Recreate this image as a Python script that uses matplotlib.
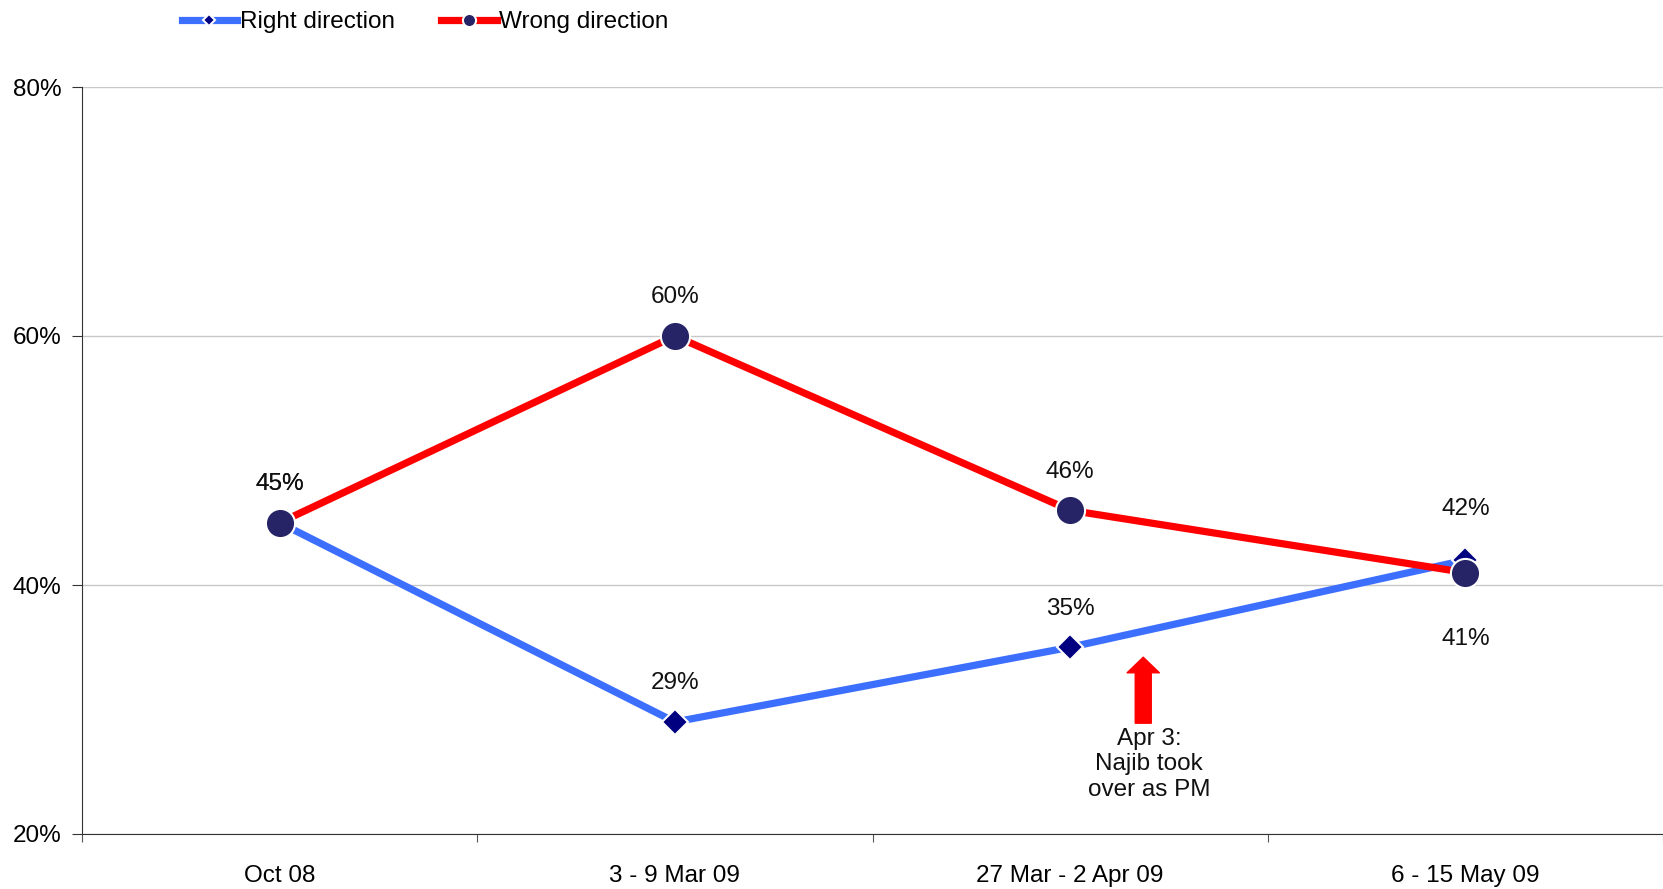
import matplotlib
matplotlib.use("Agg")
import matplotlib.pyplot as plt

plt.rcParams['font.family'] = ['Liberation Sans', 'DejaVu Sans']

# data
periods = ["Oct 08", "3 - 9 Mar 09", "27 Mar - 2 Apr 09", "6 - 15 May 09"]
right_dir = [45, 29, 35, 42]
wrong_dir = [45, 60, 46, 41]
y_ticks = [20, 40, 60, 80]

x = list(range(len(periods)))
fs = 17.5

fig = plt.figure(figsize=(16.63, 8.89), dpi=100)
ax = fig.add_axes([82/1663, 1 - 834/889, 1 - 82/1663, (834 - 87)/889])

ax.plot(x, right_dir, color="#3d6fff", lw=5.2, marker="D", ms=13,
        mfc="#000080", mec="white", mew=1.5, label="Right direction", zorder=3)
ax.plot(x, wrong_dir, color="#ff0000", lw=5.2, marker="o", ms=21,
        mfc="#262466", mec="white", mew=1.5, label="Wrong direction", zorder=4)

# data labels
lab_kw = dict(ha="center", va="center", fontsize=fs, color="#111111")
for i, v in enumerate(wrong_dir):
    if i == 3:
        ax.text(i, v - 5.3, f"{v}%", **lab_kw)
    else:
        ax.text(i, v + 3.1, f"{v}%", **lab_kw)
for i, v in enumerate(right_dir):
    if i == 3:
        ax.text(i, v + 4.1, f"{v}%", **lab_kw)
    else:
        ax.text(i, v + 3.1, f"{v}%", **lab_kw)

# annotation arrow
ax.annotate("", xy=(2.185, 34.2), xytext=(2.185, 28.9),
            arrowprops=dict(arrowstyle="simple,head_length=0.7,head_width=1.45,tail_width=0.72",
                            fc="#ff0000", ec="#ff0000", mutation_scale=16,
                            shrinkA=0, shrinkB=0))
ax.text(2.2, 25.6, "Apr 3:\nNajib took\nover as PM", ha="center", va="center",
        fontsize=fs, color="#111111", linespacing=1.2)

ax.set_xlim(-0.5, 3.5)
ax.set_ylim(20, 80)
ax.set_yticks(y_ticks)
ax.set_yticklabels([f"{t}%" for t in y_ticks], fontsize=fs)
ax.set_xticks([-0.5, 0.5, 1.5, 2.5, 3.5])
ax.set_xticklabels([])
ax.set_xticks(x, minor=True)
ax.set_xticklabels(periods, minor=True, fontsize=fs)
ax.tick_params(axis="x", which="minor", length=0, pad=22)
ax.tick_params(axis="x", which="major", length=6, color="#555555")
ax.tick_params(axis="y", length=7, color="#333333", pad=8)
ax.grid(axis="y", color="#c8c8c8", lw=1)
ax.set_axisbelow(True)
for s in ["top", "right"]:
    ax.spines[s].set_visible(False)
ax.spines["left"].set_color("#333333")
ax.spines["bottom"].set_color("#333333")

fig.legend(loc="upper left", bbox_to_anchor=(0.096, 1.012), ncol=2, frameon=False,
           fontsize=fs, handlelength=2.3, handletextpad=0.1, columnspacing=1.9,
           markerscale=0.45)

fig.savefig("out.png", dpi=100)
